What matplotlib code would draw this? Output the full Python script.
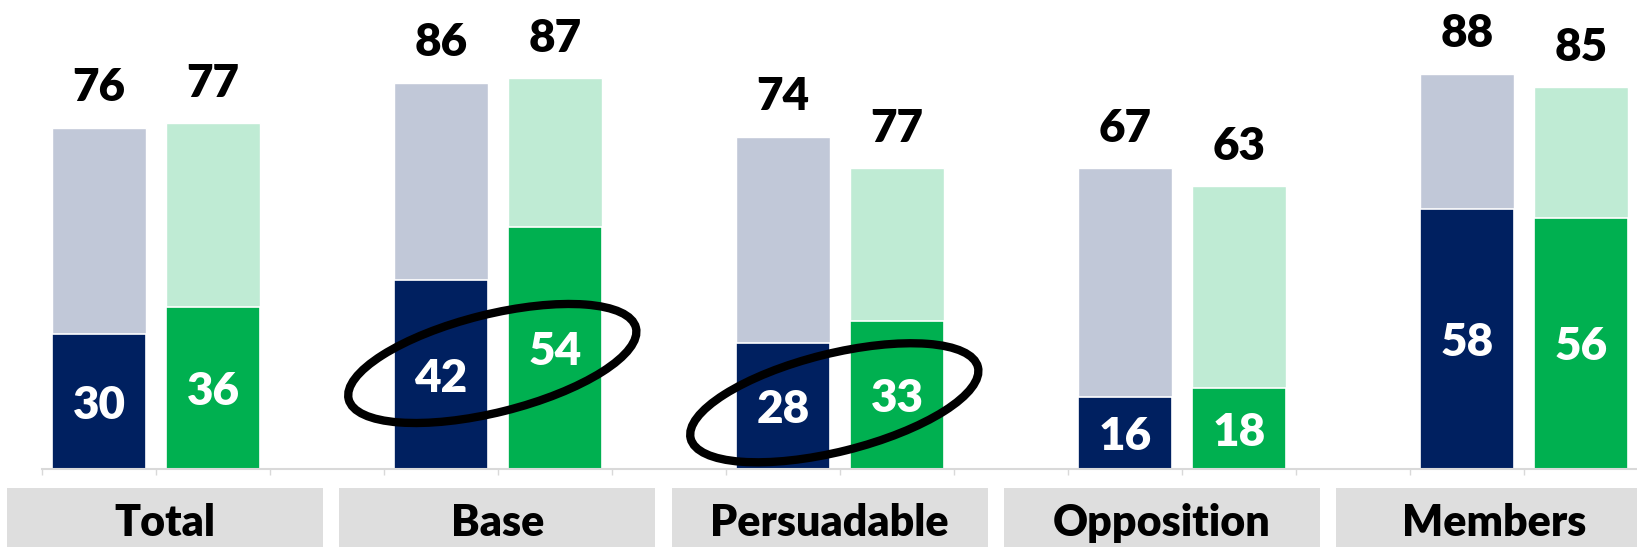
import numpy as np
import matplotlib.pyplot as plt
from matplotlib.patches import Ellipse, Rectangle
from matplotlib.transforms import IdentityTransform

plt.rcParams['font.family'] = ['Lato', 'DejaVu Sans']

groups = ['Total', 'Base', 'Persuadable', 'Opposition', 'Members']
navy_bottom = [30, 42, 28, 16, 58]
navy_top = [76, 86, 74, 67, 88]
green_bottom = [36, 54, 33, 18, 56]
green_top = [77, 87, 67, 63, 85]
# labels printed above the bars (the Persuadable green bar is labelled 77 in the source)
navy_labels = ['76', '86', '74', '67', '88']
green_labels = ['77', '87', '77', '63', '85']
circled = ['Base', 'Persuadable']

NAVY = '#002060'
NAVY_LT = '#C1C8D8'
GREEN = '#00B050'
GREEN_LT = '#BFEBD4'

W, H = 1637, 547
fig = plt.figure(figsize=(W / 100, H / 100), dpi=100)
ax = fig.add_axes([42 / W, (H - 469) / H, 1 - 42 / W, 469 / H])

xn = np.arange(len(groups)) * 3
xg = xn + 1
bw = 0.816

ax.bar(xn, navy_top, bw, color=NAVY_LT, edgecolor='white', linewidth=1)
ax.bar(xn, navy_bottom, bw, color=NAVY, edgecolor='white', linewidth=1.2)
ax.bar(xg, green_top, bw, color=GREEN_LT, edgecolor='white', linewidth=1)
ax.bar(xg, green_bottom, bw, color=GREEN, edgecolor='white', linewidth=1.2)

for xs, tops, bots, labs in [(xn, navy_top, navy_bottom, navy_labels),
                             (xg, green_top, green_bottom, green_labels)]:
    for x, t, b, lab in zip(xs, tops, bots, labs):
        ax.annotate(lab, (x, t), xytext=(0, 19), textcoords='offset points',
                    ha='center', va='baseline', fontsize=33, fontweight='heavy')
        ax.text(x, b / 2, str(b), ha='center', va='center_baseline',
                fontsize=33, fontweight='heavy', color='white')

for s in ['top', 'right', 'left']:
    ax.spines[s].set_visible(False)
ax.spines['bottom'].set_color('#D9D9D9')
ax.spines['bottom'].set_linewidth(1.5)
ax.set_yticks([])
ax.set_xticks(np.arange(-0.5, 15, 1))
ax.set_xticklabels([])
ax.tick_params(axis='x', length=4, width=1, color='#D9D9D9', direction='out')
ax.set_xlim(-0.5, -0.5 + (W - 42) / 114)
ax.set_ylim(0, 469 / 4.49)

# ellipses around the highlighted groups (drawn in pixel space)
fig.canvas.draw()
for g in circled:
    i = groups.index(g)
    cx = (xn[i] + xg[i]) / 2 - 0.05
    cy = (navy_bottom[i] + green_bottom[i]) / 4 - 0.5
    px, py = ax.transData.transform((cx, cy))
    fig.patches.append(Ellipse((px, py), 296, 98, angle=14, fill=False,
                               edgecolor='black', linewidth=6,
                               transform=IdentityTransform(), figure=fig,
                               zorder=5))

# gray category boxes
for i, g in enumerate(groups):
    left = 7 + i * 332.3
    fig.patches.append(Rectangle((left / W, 0), 316 / W, (H - 488) / H,
                                 transform=fig.transFigure, figure=fig,
                                 facecolor='#DEDEDE', edgecolor='none'))
    fig.text((left + 158) / W, (H - 536) / H, g, ha='center', va='baseline',
             fontsize=31, fontweight='heavy')

fig.savefig('out.png', dpi=100)
